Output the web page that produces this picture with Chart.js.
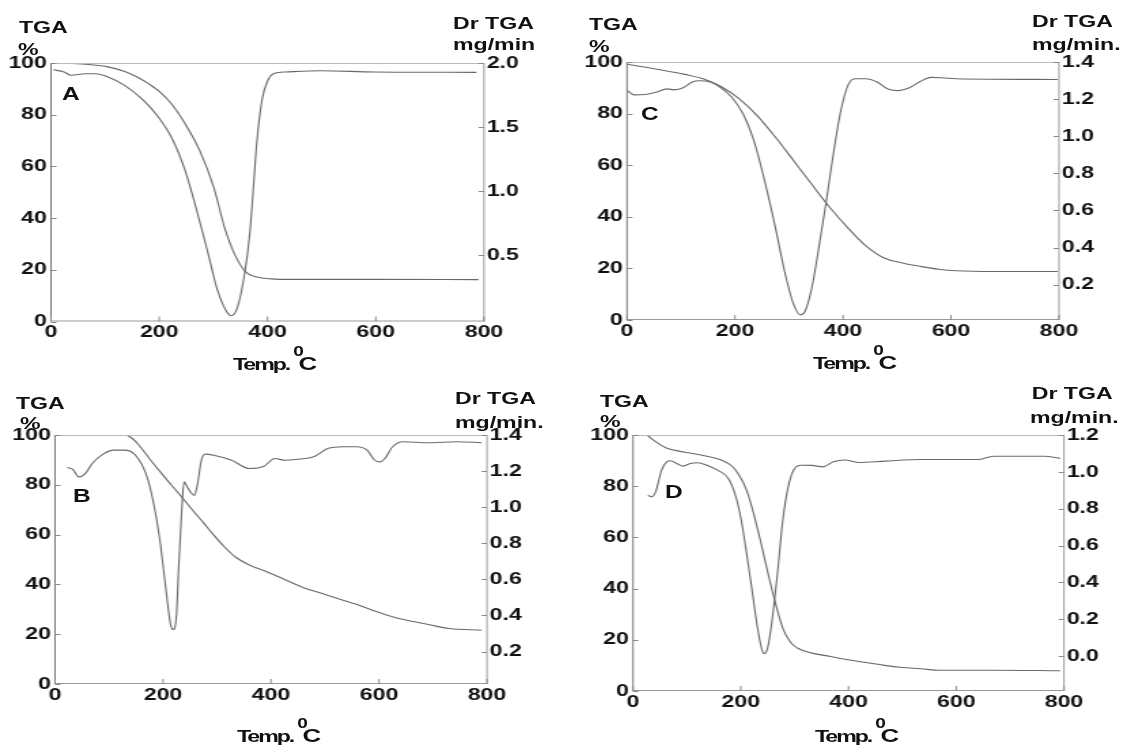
<!DOCTYPE html>
<html>
<head>
<meta charset="utf-8">
<script src="https://cdn.jsdelivr.net/npm/chart.js@4.4.1/dist/chart.umd.min.js"></script>
<style>
    html, body { margin: 0; padding: 0; background: #fff; }
    body { width: 1127px; height: 747px; position: relative; overflow: hidden; }
    .panel { position: absolute; transform-origin: 0 0; }
    .panel canvas { position: absolute; left: 0; top: 0; }
    .lbl {
        position: absolute;
        font: bold 17px 'Liberation Sans', Arial, sans-serif;
        line-height: 17px;
        color: #111;
        white-space: nowrap;
    }
    .letter { font-size: 18px; line-height: 18px; }
    .temp { letter-spacing: -1.5px; }
    .temp .deg { position: relative; top: -14px; font-size: 14px; letter-spacing: 0; margin: 0 -4px 0 3px; }
    .temp .cel { font-size: 19px; letter-spacing: 0; }
</style>
</head>
<body>
<script>
// horizontal stretch of the source picture
const S = 1.36;

const xTicks = [0, 200, 400, 600, 800];
const tgaTicks = [0, 20, 40, 60, 80, 100];
const dtgTicksA = [0.5, 1.0, 1.5, 2.0];
const dtgTicksB = [0.2, 0.4, 0.6, 0.8, 1.0, 1.2, 1.4];
const dtgTicksC = [0.2, 0.4, 0.6, 0.8, 1.0, 1.2, 1.4];
const dtgTicksD = [0.0, 0.2, 0.4, 0.6, 0.8, 1.0, 1.2];

// A
const tempA_tga = [0, 40, 70, 105, 135, 160, 180, 200, 222, 248, 275, 301, 321, 340, 360, 380, 406, 450, 600, 790];
const tgaA = [100, 99.8, 99.4, 98.5, 96.8, 94.5, 92, 89, 84.3, 76.4, 66, 51.7, 36.1, 25.7, 19.1, 17.2, 16.5, 16.3, 16.3, 16.2];
const tempA_dtg = [4, 24, 37, 63, 83, 103, 136, 169, 195, 222, 248, 268, 288, 307, 324, 333, 344, 357, 367, 374, 380, 390, 400, 413, 433, 499, 598, 786];
const dtgA = [1.948, 1.93, 1.905, 1.916, 1.916, 1.895, 1.826, 1.716, 1.597, 1.425, 1.16, 0.87, 0.553, 0.237, 0.065, 0.03, 0.09, 0.34, 0.66, 1.03, 1.37, 1.716, 1.86, 1.92, 1.93, 1.94, 1.93, 1.927];

// B
const tempB_tga = [20, 129, 142, 155, 175, 195, 215, 235, 254, 274, 294, 314, 334, 360, 393, 426, 459, 492, 525, 558, 592, 625, 658, 691, 730, 790];
const tgaB = [100, 100, 98.8, 96, 90.5, 85.2, 80, 75, 70, 65, 59.8, 55, 51, 47.8, 45, 41.9, 38.8, 36.5, 34.2, 32, 29.3, 27, 25.3, 23.9, 22.3, 21.6];
const tempB_dtg = [23, 33, 44, 56, 69, 89, 109, 129, 149, 169, 182, 195, 205, 214, 219, 225, 229, 235, 239, 245, 251, 258, 264, 271, 278, 294, 327, 360, 387, 407, 426, 459, 479, 506, 532, 558, 578, 592, 601, 611, 625, 645, 691, 744, 790];
const dtgB = [1.22, 1.209, 1.168, 1.186, 1.242, 1.294, 1.316, 1.316, 1.288, 1.18, 1.03, 0.8, 0.554, 0.35, 0.322, 0.406, 0.666, 1.0, 1.14, 1.112, 1.084, 1.065, 1.13, 1.26, 1.294, 1.288, 1.26, 1.214, 1.227, 1.27, 1.26, 1.268, 1.279, 1.326, 1.335, 1.335, 1.316, 1.26, 1.251, 1.27, 1.335, 1.363, 1.357, 1.363, 1.357];

// C
const tempC_tga = [1, 40, 74, 107, 141, 174, 208, 241, 275, 308, 342, 376, 409, 443, 476, 510, 543, 577, 610, 677, 798];
const tgaC = [99.1, 97.8, 96.5, 95.2, 93.5, 90.5, 85.7, 79.2, 70.8, 61.9, 52.6, 43.5, 35.7, 28.6, 24, 22.1, 20.8, 19.7, 19.1, 18.8, 18.8];
const tempC_dtg = [1, 13, 34, 54, 74, 87, 104, 121, 134, 154, 174, 194, 215, 235, 255, 275, 292, 308, 321, 329, 342, 355, 369, 382, 396, 409, 422, 443, 463, 483, 503, 523, 543, 563, 583, 610, 798];
const dtgC = [1.246, 1.223, 1.225, 1.237, 1.255, 1.25, 1.261, 1.292, 1.299, 1.292, 1.261, 1.21, 1.12, 0.975, 0.758, 0.505, 0.27, 0.098, 0.038, 0.053, 0.18, 0.396, 0.65, 0.903, 1.138, 1.273, 1.31, 1.31, 1.292, 1.255, 1.246, 1.261, 1.295, 1.317, 1.315, 1.31, 1.306];

// D
const tempD_tga = [26, 42, 63, 83, 110, 137, 164, 184, 197, 211, 224, 238, 251, 265, 278, 292, 305, 332, 366, 399, 433, 467, 500, 534, 568, 601, 669, 793];
const tgaD = [100, 97.4, 94.8, 93.8, 92.8, 91.7, 90.2, 87.8, 84.3, 78.4, 69.2, 57.4, 45.6, 33.8, 24.6, 19.1, 16.8, 14.8, 13.5, 12.2, 11.1, 10, 9.2, 8.7, 8.1, 8.1, 8.1, 7.9];
const tempD_dtg = [28, 34, 42, 53, 63, 69, 83, 93, 106, 120, 137, 157, 177, 191, 201, 211, 221, 231, 239, 244, 250, 258, 268, 278, 288, 298, 312, 332, 352, 372, 393, 420, 467, 534, 601, 642, 669, 709, 763, 793];
const dtgD = [0.873, 0.864, 0.891, 1.009, 1.055, 1.06, 1.042, 1.031, 1.045, 1.049, 1.036, 1.009, 0.964, 0.864, 0.736, 0.555, 0.355, 0.155, 0.036, 0.013, 0.045, 0.191, 0.445, 0.736, 0.918, 1.009, 1.036, 1.035, 1.027, 1.055, 1.064, 1.051, 1.058, 1.067, 1.067, 1.067, 1.085, 1.085, 1.085, 1.073];

const pts = (xs, ys) => xs.map((x, i) => ({ x: x, y: ys[i] }));
const tickFont = { family: "'Liberation Sans', Arial, sans-serif", size: 17, weight: 'bold' };

// box round the plot and short inward tick marks
const frame = {
    id: 'frame',
    afterDraw(chart) {
        const { ctx, chartArea: a, scales } = chart;
        ctx.save();
        ctx.lineWidth = 1;
        ctx.strokeStyle = '#bbb';
        ctx.beginPath(); ctx.moveTo(a.left, a.top + 0.5); ctx.lineTo(a.right, a.top + 0.5); ctx.stroke();
        ctx.strokeStyle = '#999';
        ctx.beginPath(); ctx.moveTo(a.right, a.top); ctx.lineTo(a.right, a.bottom); ctx.stroke();
        ctx.beginPath(); ctx.moveTo(a.left, a.bottom - 0.5); ctx.lineTo(a.right, a.bottom - 0.5); ctx.stroke();
        ctx.strokeStyle = '#777';
        ctx.beginPath(); ctx.moveTo(a.left, a.top); ctx.lineTo(a.left, a.bottom); ctx.stroke();
        ctx.strokeStyle = '#888';
        ctx.beginPath();
        scales.x.ticks.forEach(t => {
            const px = scales.x.getPixelForValue(t.value);
            ctx.moveTo(px, a.bottom); ctx.lineTo(px, a.bottom - 5);
        });
        scales.y.ticks.forEach(t => {
            const py = Math.round(scales.y.getPixelForValue(t.value)) + 0.5;
            ctx.moveTo(a.left, py); ctx.lineTo(a.left + 4, py);
        });
        scales.y2.ticks.forEach(t => {
            const py = Math.round(scales.y2.getPixelForValue(t.value)) + 0.5;
            ctx.moveTo(a.right, py); ctx.lineTo(a.right - 4, py);
        });
        ctx.stroke();
        ctx.restore();
    },
};

const addLabel = (box, cls, html, x, y) => {
    const d = document.createElement('div');
    d.className = 'lbl ' + cls;
    d.innerHTML = html;
    d.style.left = x + 'px';
    d.style.top = y + 'px';
    box.appendChild(d);
};

const makePanel = (p) => {
    // p.page: panel rect on the page, p.area: plot rect inside the panel (page px)
    const W = p.page.w / S, H = p.page.h;
    const L = p.area.l / S, R = p.area.r / S;
    const box = document.createElement('div');
    box.className = 'panel';
    box.style.left = p.page.x + 'px';
    box.style.top = p.page.y + 'px';
    box.style.width = W + 'px';
    box.style.height = H + 'px';
    box.style.transform = 'scaleX(' + S + ')';
    document.body.appendChild(box);

    const cv = document.createElement('canvas');
    cv.width = Math.round(W);
    cv.height = H;
    cv.style.width = Math.round(W) + 'px';
    cv.style.height = H + 'px';
    box.appendChild(cv);

    const line = { borderColor: '#686868', borderWidth: 1.1, pointRadius: 0, cubicInterpolationMode: 'monotone', fill: false };

    new Chart(cv, {
        type: 'line',
        data: {
            datasets: [
                Object.assign({ label: 'TGA', data: pts(p.tgaX, p.tga), yAxisID: 'y' }, line),
                Object.assign({ label: 'Dr TGA', data: pts(p.dtgX, p.dtg), yAxisID: 'y2' }, line),
            ],
        },
        options: {
            responsive: false,
            animation: false,
            devicePixelRatio: 1,
            layout: { padding: { top: p.area.t, left: 0, right: 0, bottom: 0 } },
            plugins: { legend: { display: false }, tooltip: { enabled: false } },
            scales: {
                x: {
                    type: 'linear',
                    position: 'bottom',
                    min: 0,
                    max: 800,
                    afterBuildTicks: (s) => { s.ticks = xTicks.map(v => ({ value: v })); },
                    afterFit: (s) => { s.height = H - p.area.b; },
                    grid: { display: false, drawTicks: false },
                    border: { display: false },
                    ticks: { font: tickFont, color: '#111', padding: 1, maxRotation: 0, autoSkip: false },
                },
                y: {
                    type: 'linear',
                    position: 'left',
                    min: 0,
                    max: 100,
                    afterBuildTicks: (s) => { s.ticks = tgaTicks.map(v => ({ value: v })); },
                    afterFit: (s) => { s.width = L; },
                    grid: { display: false, drawTicks: false },
                    border: { display: false },
                    ticks: { font: tickFont, color: '#111', padding: 3, autoSkip: false },
                },
                y2: {
                    type: 'linear',
                    position: 'right',
                    min: p.dtgMin,
                    max: p.dtgMax,
                    afterBuildTicks: (s) => { s.ticks = p.dtgTicks.map(v => ({ value: v })); },
                    afterFit: (s) => { s.width = cv.width - R; },
                    grid: { display: false, drawTicks: false },
                    border: { display: false },
                    ticks: { font: tickFont, color: '#111', padding: 2, autoSkip: false, callback: (v) => v.toFixed(1) },
                },
            },
        },
        plugins: [frame],
    });

    const t = p.text;
    addLabel(box, '', 'TGA', t.tga[0] / S, t.tga[1]);
    addLabel(box, '', '%', t.pct[0] / S, t.pct[1]);
    addLabel(box, '', 'Dr TGA', t.dr[0] / S, t.dr[1]);
    addLabel(box, '', p.unit, t.unit[0] / S, t.unit[1]);
    addLabel(box, 'letter', p.letter, t.letter[0] / S, t.letter[1]);
    addLabel(box, 'temp', 'Temp.<span class="deg">0</span><span class="cel">C</span>', t.temp[0] / S, t.temp[1]);
};

makePanel({
    page: { x: 0, y: 0, w: 564, h: 374 },
    area: { l: 51, r: 484, t: 63, b: 321.5 },
    tgaX: tempA_tga, tga: tgaA, dtgX: tempA_dtg, dtg: dtgA,
    dtgMin: -0.015, dtgMax: 2.0, dtgTicks: dtgTicksA,
    letter: 'A', unit: 'mg/min',
    text: { tga: [19, 19], pct: [18, 41], dr: [453, 14.5], unit: [453, 36], letter: [62, 85], temp: [233, 355] },
});

makePanel({
    page: { x: 564, y: 0, w: 563, h: 374 },
    area: { l: 63, r: 495, t: 62, b: 320 },
    tgaX: tempC_tga, tga: tgaC, dtgX: tempC_dtg, dtg: dtgC,
    dtgMin: 0.01, dtgMax: 1.4, dtgTicks: dtgTicksC,
    letter: 'C', unit: 'mg/min.',
    text: { tga: [25, 16.3], pct: [25, 37.8], dr: [468, 12.8], unit: [468, 35.6], letter: [77, 104.7], temp: [249, 354] },
});

makePanel({
    page: { x: 0, y: 374, w: 564, h: 373 },
    area: { l: 55, r: 487, t: 61, b: 310 },
    tgaX: tempB_tga, tga: tgaB, dtgX: tempB_dtg, dtg: dtgB,
    dtgMin: 0.02, dtgMax: 1.4, dtgTicks: dtgTicksB,
    letter: 'B', unit: 'mg/min.',
    text: { tga: [16, 20.8], pct: [20, 40.8], dr: [455, 15.8], unit: [455, 39.6], letter: [73, 112.7], temp: [237, 353] },
});

makePanel({
    page: { x: 564, y: 374, w: 563, h: 373 },
    area: { l: 69, r: 500, t: 61, b: 317 },
    tgaX: tempD_tga, tga: tgaD, dtgX: tempD_dtg, dtg: dtgD,
    dtgMin: -0.19, dtgMax: 1.2, dtgTicks: dtgTicksD,
    letter: 'D', unit: 'mg/min.',
    text: { tga: [36, 18.8], pct: [36, 38.8], dr: [467.7, 10.8], unit: [466, 34.6], letter: [101, 108.7], temp: [251, 353] },
});
</script>
</body>
</html>
